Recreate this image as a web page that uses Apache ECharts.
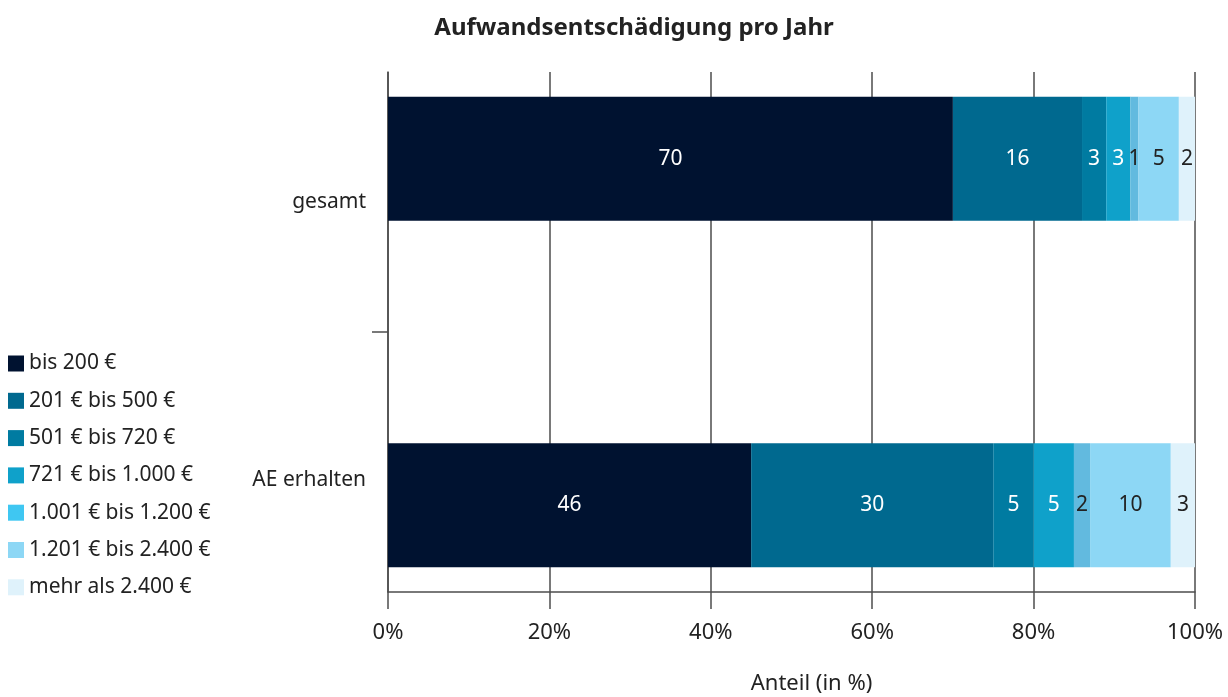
<!DOCTYPE html>
<html lang="de">
<head>
<meta charset="UTF-8">
<title>Aufwandsentschädigung pro Jahr</title>
<script src="https://cdn.jsdelivr.net/npm/echarts@6/dist/echarts.min.js"></script>
<style>
  html, body { margin: 0; padding: 0; background: #fff; }
  #chart { width: 1228px; height: 697px; }
</style>
</head>
<body>
<div id="chart"></div>
<script>
// ---------- Daten ----------
// mittlere Kategorie ist nur Abstandhalter
var categories = ['gesamt', '', 'AE erhalten'];
var groups = ['bis 200 €', '201 € bis 500 €', '501 € bis 720 €', '721 € bis 1.000 €',
              '1.001 € bis 1.200 €', '1.201 € bis 2.400 €', 'mehr als 2.400 €'];
// Balkenlänge in %
var gesamtShares = [70, 16, 3, 3, 1, 5, 2];
var aeShares = [45, 30, 5, 5, 2, 10, 3];
// Beschriftung in den Balken
var gesamtLabels = [70, 16, 3, 3, 1, 5, 2];
var aeLabels = [46, 30, 5, 5, 2, 10, 3];
var xTicks = [0, 20, 40, 60, 80, 100];

var colors = ['#001230', '#00698f', '#007ba1', '#0fa1ca', '#62badf', '#8dd7f5', '#dff2fb'];
var legendColors = ['#001230', '#00698f', '#007ba1', '#0fa1ca', '#3fc7f2', '#8dd7f5', '#dff2fb'];
var labelColors = ['#fff', '#fff', '#fff', '#fff', '#222', '#222', '#222'];

var chart = echarts.init(document.getElementById('chart'));

var series = [];
for (var i = 0; i < groups.length; i++) {
    series.push({
        name: groups[i],
        type: 'bar',
        stack: 'total',
        barWidth: 124,
        itemStyle: { color: colors[i] },
        label: {
            show: true,
            position: 'inside',
            fontFamily: 'Noto Sans',
            fontSize: 21,
            color: labelColors[i],
            formatter: function (p) { return p.data.raw; }
        },
        data: [
            { value: gesamtShares[i], raw: gesamtLabels[i] },
            '-',
            { value: aeShares[i], raw: aeLabels[i] }
        ]
    });
}

var legendData = [];
for (var j = 0; j < groups.length; j++) {
    legendData.push({ name: groups[j], itemStyle: { color: legendColors[j] } });
}

var option = {
    animation: false,
    textStyle: { fontFamily: 'Noto Sans' },
    title: {
        text: 'Aufwandsentschädigung pro Jahr',
        left: 629,
        textAlign: 'center',
        top: 11,
        textStyle: { fontFamily: 'Noto Sans', fontSize: 24, fontWeight: 'bold', color: '#222' }
    },
    legend: {
        orient: 'vertical',
        left: 8,
        top: 353,
        padding: 0,
        itemWidth: 16,
        itemHeight: 16,
        itemGap: 16.3,
        icon: 'rect',
        selectedMode: false,
        textStyle: { fontFamily: 'Noto Sans', fontSize: 21, color: '#222' },
        data: legendData
    },
    grid: { left: 388, right: 33, top: 72, bottom: 105, containLabel: false, outerBoundsMode: 'none' },
    xAxis: {
        type: 'value',
        min: xTicks[0],
        max: xTicks[xTicks.length - 1],
        interval: 20,
        name: 'Anteil (in %)',
        nameLocation: 'middle',
        nameGap: 81,
        nameTextStyle: { fontFamily: 'Noto Sans', fontSize: 22, color: '#222', padding: [0, 0, 0, 40] },
        axisLine: { show: true, lineStyle: { color: '#4d4d4d', width: 1.5 } },
        axisTick: { show: true, length: 17, lineStyle: { color: '#4d4d4d', width: 1.5 } },
        axisLabel: { fontFamily: 'Noto Sans', fontSize: 22, color: '#222', margin: 30, formatter: '{value}%' },
        splitLine: { show: true, lineStyle: { color: '#4d4d4d', width: 1.5 } }
    },
    yAxis: {
        type: 'category',
        inverse: true,
        data: categories,
        axisLine: { show: true, lineStyle: { color: '#4d4d4d', width: 1.5 } },
        axisTick: {
            show: true,
            alignWithLabel: true,
            length: 16,
            interval: function (idx) { return idx === 1; },
            lineStyle: { color: '#4d4d4d', width: 1.5 }
        },
        axisLabel: {
            margin: 22,
            fontFamily: 'Noto Sans',
            fontSize: 21,
            color: '#222',
            formatter: function (v) {
                if (v === 'gesamt') return '{a|' + v + '}';
                if (v) return '{b|' + v + '}';
                return '';
            },
            rich: {
                a: { fontFamily: 'Noto Sans', fontSize: 21, color: '#222', padding: [86, 0, 0, 0] },
                b: { fontFamily: 'Noto Sans', fontSize: 21, color: '#222', padding: [0, 0, 50, 0] }
            }
        }
    },
    series: series
};

chart.setOption(option);
</script>
</body>
</html>
